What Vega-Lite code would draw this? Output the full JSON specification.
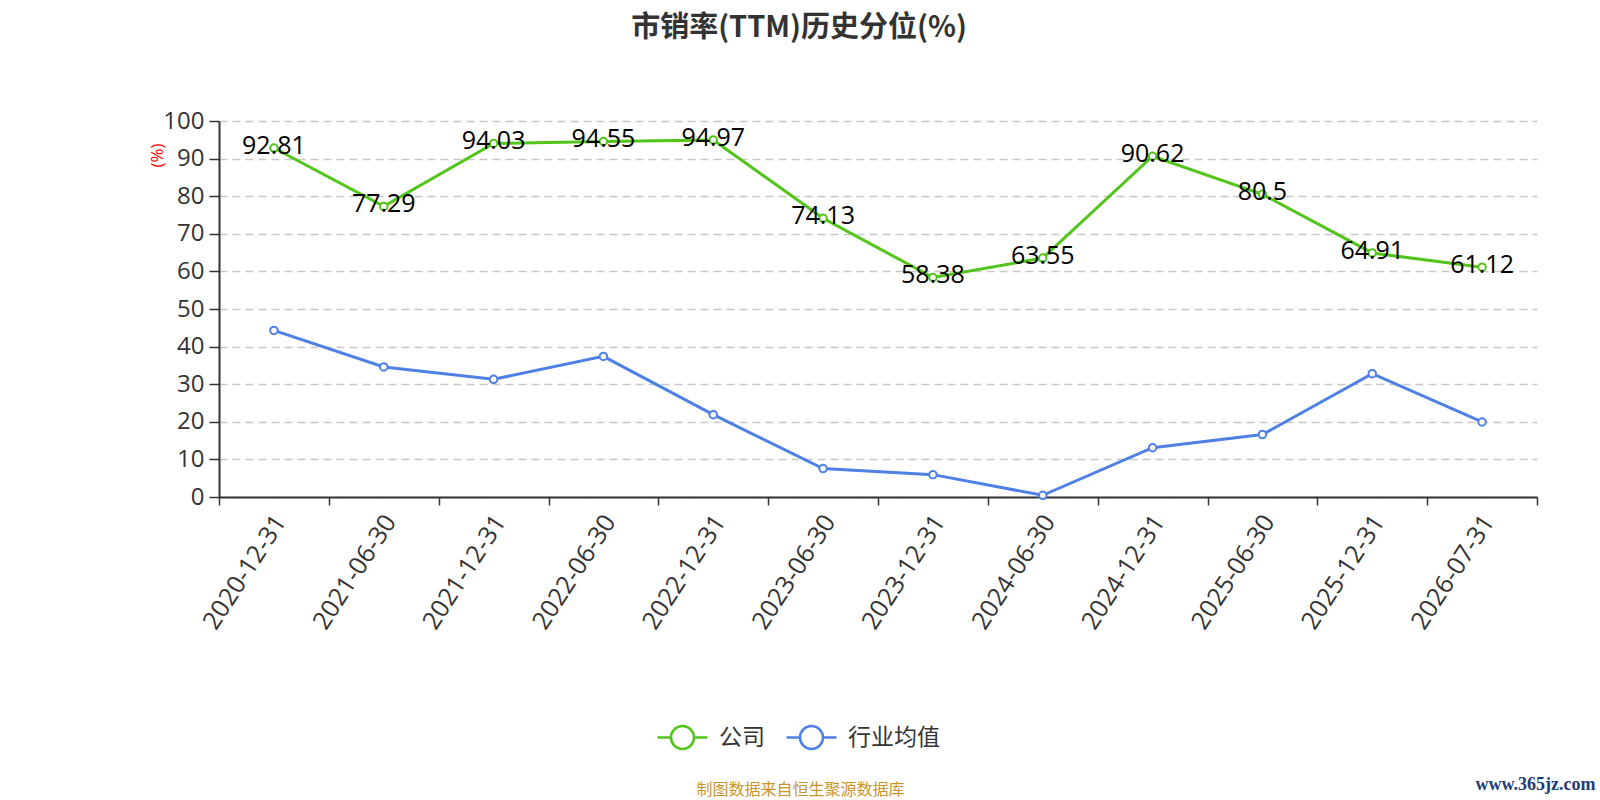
{
  "$schema": "https://vega.github.io/schema/vega-lite/v6.json",
  "autosize": {"type": "none"},
  "width": 1318,
  "height": 376,
  "padding": {"left": 219, "top": 121, "right": 63, "bottom": 303},
  "background": "white",
  "config": {"view": {"stroke": null}},
  "title": {
    "text": "市销率(TTM)历史分位(%)",
    "font": "Noto Sans CJK SC",
    "fontSize": 29,
    "fontWeight": "bold",
    "color": "#333333",
    "anchor": "middle",
    "frame": "group",
    "dx": -79,
    "offset": 66
  },
  "data": {
    "values": [
      {"date": "2020-12-31", "series": "公司", "value": 92.81},
      {"date": "2021-06-30", "series": "公司", "value": 77.29},
      {"date": "2021-12-31", "series": "公司", "value": 94.03},
      {"date": "2022-06-30", "series": "公司", "value": 94.55},
      {"date": "2022-12-31", "series": "公司", "value": 94.97},
      {"date": "2023-06-30", "series": "公司", "value": 74.13},
      {"date": "2023-12-31", "series": "公司", "value": 58.38},
      {"date": "2024-06-30", "series": "公司", "value": 63.55},
      {"date": "2024-12-31", "series": "公司", "value": 90.62},
      {"date": "2025-06-30", "series": "公司", "value": 80.5},
      {"date": "2025-12-31", "series": "公司", "value": 64.91},
      {"date": "2026-07-31", "series": "公司", "value": 61.12},
      {"date": "2020-12-31", "series": "行业均值", "value": 44.3},
      {"date": "2021-06-30", "series": "行业均值", "value": 34.6},
      {"date": "2021-12-31", "series": "行业均值", "value": 31.3},
      {"date": "2022-06-30", "series": "行业均值", "value": 37.4},
      {"date": "2022-12-31", "series": "行业均值", "value": 21.9},
      {"date": "2023-06-30", "series": "行业均值", "value": 7.55},
      {"date": "2023-12-31", "series": "行业均值", "value": 5.95},
      {"date": "2024-06-30", "series": "行业均值", "value": 0.45},
      {"date": "2024-12-31", "series": "行业均值", "value": 13.1},
      {"date": "2025-06-30", "series": "行业均值", "value": 16.6},
      {"date": "2025-12-31", "series": "行业均值", "value": 32.8},
      {"date": "2026-07-31", "series": "行业均值", "value": 19.95}
    ]
  },
  "encoding": {
    "x": {
      "field": "date",
      "type": "ordinal",
      "sort": null,
      "scale": {"type": "band", "paddingInner": 0, "paddingOuter": 0},
      "axis": {
        "orient": "bottom",
        "tickBand": "extent",
        "grid": false,
        "domain": true,
        "domainColor": "#333333",
        "domainWidth": 2,
        "ticks": true,
        "tickSize": 8,
        "tickColor": "#333333",
        "tickWidth": 1.5,
        "labelAngle": -57,
        "labelAlign": "right",
        "labelBaseline": "middle",
        "labelFont": "Open Sans",
        "labelFontSize": 25,
        "labelColor": "#333333",
        "labelPadding": 12,
        "labelOffset": 6,
        "labelOverlap": false,
        "title": "制图数据来自恒生聚源数据库",
        "titleFont": "Noto Sans CJK SC",
        "titleFontSize": 16,
        "titleFontWeight": "normal",
        "titleColor": "#c9952b",
        "titleX": 581,
        "titleY": 292,
        "titleAlign": "center",
        "titleBaseline": "middle",
        "titleAngle": 0
      }
    },
    "color": {
      "field": "series",
      "type": "nominal",
      "scale": {"domain": ["公司", "行业均值"], "range": ["#52c41a", "#4e80e6"]},
      "legend": {
        "orient": "none",
        "direction": "horizontal",
        "legendX": 437,
        "legendY": 590,
        "title": null,
        "symbolType": "M-1,0L-0.46,0M0.46,0L1,0M-0.46,0A0.46,0.46,0,1,1,0.46,0A0.46,0.46,0,1,1,-0.46,0Z",
        "symbolSize": 2500,
        "symbolStrokeWidth": 2.5,
        "symbolFillColor": "white",
        "labelFont": "Noto Sans CJK SC",
        "labelFontSize": 23,
        "labelColor": "#333333",
        "labelOffset": 10,
        "columnPadding": 16
      }
    }
  },
  "layer": [
    {
      "mark": {"type": "line", "strokeWidth": 3},
      "encoding": {
        "y": {
          "field": "value",
          "type": "quantitative",
          "scale": {"domain": [0, 100], "nice": false},
          "axis": {
            "orient": "left",
            "values": [0, 10, 20, 30, 40, 50, 60, 70, 80, 90, 100],
            "domain": true,
            "domainColor": "#333333",
            "domainWidth": 2,
            "ticks": true,
            "tickSize": 10,
            "tickColor": "#333333",
            "tickWidth": 1.5,
            "labelFont": "Open Sans",
            "labelFontSize": 24,
            "labelColor": "#333333",
            "labelPadding": 5,
            "grid": true,
            "gridDash": [8, 5],
            "gridColor": "#c8c8c8",
            "gridWidth": 1.5,
            "title": "(%)",
            "titleColor": "#ff0000",
            "titleFont": "Open Sans",
            "titleFontSize": 17,
            "titleFontWeight": "normal",
            "titleX": -62,
            "titleY": 34,
            "titleAngle": -90,
            "titleAlign": "center",
            "titleBaseline": "middle"
          }
        }
      }
    },
    {
      "mark": {"type": "point", "shape": "circle", "filled": false, "fill": "white", "strokeWidth": 2, "size": 56, "opacity": 1, "fillOpacity": 1},
      "encoding": {
        "y": {
          "field": "value",
          "type": "quantitative",
          "axis": {
            "orient": "right",
            "domain": false,
            "ticks": false,
            "labels": false,
            "grid": false,
            "title": "www.365jz.com",
            "titleAngle": 0,
            "titleX": -2,
            "titleY": 663,
            "titleAlign": "center",
            "titleBaseline": "middle",
            "titleFont": "Liberation Serif",
            "titleFontSize": 18,
            "titleFontWeight": "bold",
            "titleColor": "#1d3c78"
          }
        }
      }
    },
    {
      "transform": [{"filter": "datum.series === '公司'"}],
      "mark": {"type": "text", "font": "Open Sans", "fontSize": 25, "color": "#000000", "align": "center", "baseline": "middle", "dy": -2},
      "encoding": {
        "y": {"field": "value", "type": "quantitative", "axis": null},
        "color": {"value": "#000000"},
        "text": {"field": "value", "type": "nominal"}
      }
    }
  ],
  "resolve": {"axis": {"y": "independent"}}
}
